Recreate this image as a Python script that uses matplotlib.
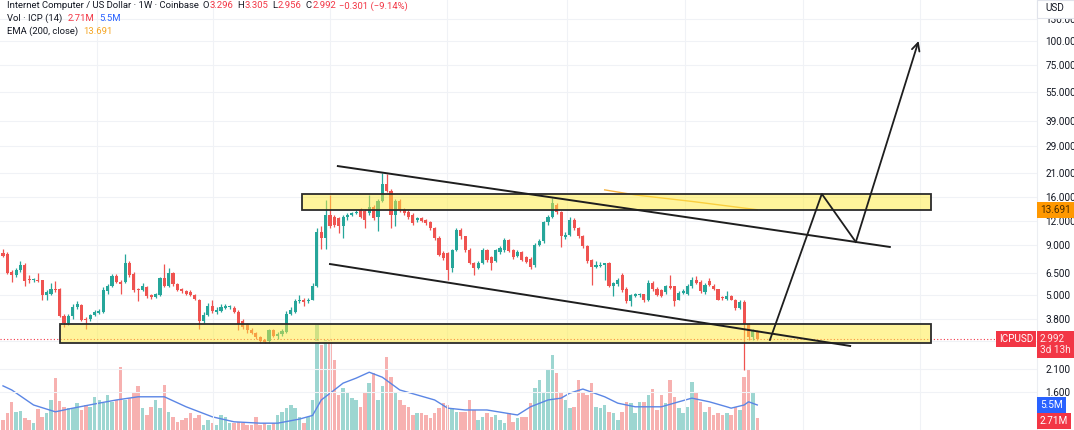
import matplotlib
matplotlib.use("Agg")
import matplotlib.pyplot as plt
import matplotlib.transforms as mtransforms
from matplotlib.patches import Rectangle
from matplotlib.ticker import NullLocator

plt.rcParams["font.family"] = ["Roboto", "DejaVu Sans"]

# weekly candles, ICP/USD (Coinbase)
opens = [8.2, 8.1, 6.55, 6.35, 6.7, 7.15, 6.0, 5.97, 6.0, 5.95,
         5.0, 5.1, 5.4, 5.35, 3.9, 3.6, 3.9, 4.35, 4.45, 3.75,
         3.8, 3.95, 4.05, 4.1, 5.25, 5.55, 6.3, 5.85, 5.85, 7.3,
         6.45, 5.35, 5.3, 5.5, 5.0, 4.9, 5.0, 6.1, 5.6, 6.5,
         5.7, 5.35, 5.25, 5.2, 5.0, 4.75, 3.7, 3.95, 4.42, 4.1,
         4.15, 4.3, 4.35, 4.3, 4.12, 3.7, 3.55, 3.32, 3.2, 3.07,
         2.95, 2.9, 3.3, 3.1, 3.18, 3.26, 4.0, 4.1, 4.65, 4.75,
         4.65, 4.73, 5.6, 10.5, 9.8, 12.9, 12.6, 12.4, 11.3, 12.5,
         12.9, 13.2, 13.6, 13.5, 13.2, 14.2, 12.6, 15.2, 18.6, 17.1,
         12.9, 15.1, 13.65, 13.4, 12.9, 12.1, 12.35, 12.1, 11.8, 11.0,
         9.8, 8.2, 8.2, 6.9, 8.5, 10.8, 10.0, 8.5, 7.3, 6.9,
         7.3, 8.5, 7.8, 7.5, 8.3, 8.5, 9.6, 8.5, 7.95, 8.3,
         7.8, 7.7, 7.1, 9.0, 9.5, 11.8, 12.6, 14.5, 13.3, 9.9,
         10.2, 12.2, 11.0, 10.0, 8.9, 7.6, 7.0, 7.05, 7.1, 7.3,
         5.6, 5.7, 6.35, 5.4, 4.65, 4.95, 5.0, 5.05, 4.7, 5.75,
         5.4, 5.3, 5.2, 5.55, 5.55, 4.75, 5.15, 5.1, 5.55, 6.0,
         5.85, 5.2, 5.9, 5.6, 5.35, 4.85, 4.8, 4.95, 4.75, 4.3,
         4.6, 3.55, 3.05, 3.296]
highs = [8.6, 8.3, 6.7, 6.9, 7.5, 7.3, 6.35, 6.1, 6.5, 6.0,
         5.3, 5.75, 5.9, 5.45, 4.0, 4.0, 4.5, 4.65, 4.5, 3.85,
         4.0, 4.2, 4.25, 5.5, 5.7, 6.45, 6.45, 5.95, 8.1, 7.5,
         6.6, 5.45, 5.75, 5.6, 5.1, 5.15, 6.2, 7.2, 6.9, 6.6,
         5.8, 5.45, 5.3, 5.3, 5.05, 4.8, 4.1, 4.55, 4.7, 4.35,
         4.5, 4.5, 4.45, 4.4, 4.2, 3.8, 3.6, 3.38, 3.25, 3.1,
         3.0, 3.35, 3.35, 3.25, 3.35, 4.15, 4.35, 4.8, 5.0, 4.85,
         4.85, 5.75, 11.0, 11.3, 15.4, 16.3, 12.9, 12.6, 12.8, 13.1,
         13.4, 13.6, 13.9, 13.8, 16.3, 14.5, 15.6, 21.0, 20.8, 17.5,
         15.5, 15.6, 14.0, 13.6, 13.1, 12.6, 12.5, 12.3, 12.0, 11.2,
         10.0, 8.4, 8.3, 8.6, 11.1, 11.0, 10.1, 8.7, 7.4, 7.5,
         8.7, 8.6, 7.9, 8.6, 8.9, 9.8, 9.7, 8.6, 8.5, 8.4,
         7.9, 7.8, 9.2, 9.7, 12.0, 12.9, 15.7, 14.9, 13.5, 10.5,
         12.5, 12.4, 11.2, 10.2, 9.0, 7.7, 7.5, 7.4, 7.35, 7.4,
         5.85, 6.1, 6.5, 5.5, 5.1, 5.15, 5.15, 5.1, 6.0, 5.9,
         5.5, 5.4, 5.65, 6.35, 5.6, 5.25, 5.4, 5.7, 6.2, 6.3,
         5.95, 5.75, 6.15, 5.7, 5.4, 4.95, 5.25, 5.0, 4.8, 4.7,
         4.7, 3.6, 3.35, 3.305]
lows = [7.8, 6.4, 5.85, 6.2, 6.6, 5.6, 5.8, 5.85, 5.85, 4.75,
        4.75, 5.0, 5.2, 3.85, 3.45, 3.5, 3.8, 4.25, 3.7, 3.35,
        3.7, 3.9, 4.0, 4.05, 5.1, 5.5, 5.75, 5.1, 5.75, 6.2,
        5.2, 4.65, 5.25, 4.85, 4.8, 4.85, 4.95, 5.5, 5.5, 5.6,
        5.25, 5.15, 5.0, 4.95, 4.7, 3.35, 3.6, 3.9, 4.05, 4.0,
        4.1, 4.25, 4.25, 4.05, 3.3, 3.35, 3.2, 3.15, 3.0, 2.85,
        2.85, 2.85, 3.05, 3.0, 3.1, 3.2, 3.95, 4.05, 4.55, 4.4,
        4.55, 4.7, 5.5, 8.6, 8.6, 11.0, 11.2, 10.4, 9.8, 12.2,
        12.7, 13.0, 12.4, 11.0, 12.9, 12.2, 10.6, 15.0, 16.8, 11.0,
        11.3, 13.4, 12.9, 12.3, 11.5, 11.9, 11.8, 11.5, 10.8, 9.6,
        7.9, 7.6, 6.0, 6.6, 8.4, 9.7, 8.3, 7.2, 6.35, 6.8,
        7.2, 7.4, 6.7, 7.4, 8.1, 8.3, 8.3, 7.7, 7.8, 7.5,
        7.3, 6.8, 7.0, 8.9, 9.3, 11.5, 12.4, 13.0, 8.8, 9.7,
        10.0, 10.8, 9.8, 8.7, 7.3, 5.64, 6.9, 6.95, 6.0, 5.5,
        4.95, 5.6, 5.2, 4.55, 4.4, 4.9, 4.9, 4.6, 4.65, 5.25,
        4.95, 4.9, 5.1, 5.35, 4.4, 4.7, 5.1, 5.0, 5.45, 5.7,
        5.15, 5.1, 5.55, 5.3, 4.7, 4.7, 4.75, 4.7, 4.2, 4.25,
        2.07, 2.95, 2.95, 2.956]
closes = [7.95, 6.5, 6.35, 6.7, 7.15, 5.9, 5.95, 6.0, 5.9, 5.0,
          5.2, 5.4, 5.3, 3.9, 3.6, 3.9, 4.35, 4.5, 3.75, 3.72,
          3.95, 4.1, 4.15, 5.3, 5.55, 6.3, 5.85, 5.7, 7.3, 6.35,
          5.3, 5.3, 5.55, 4.95, 4.9, 5.05, 6.1, 5.6, 6.5, 5.7,
          5.3, 5.25, 5.1, 5.0, 4.8, 3.7, 3.95, 4.4, 4.15, 4.2,
          4.35, 4.38, 4.37, 4.1, 3.55, 3.45, 3.3, 3.2, 3.07, 2.92,
          2.88, 3.3, 3.1, 3.18, 3.28, 4.0, 4.2, 4.65, 4.75, 4.62,
          4.75, 5.6, 10.5, 9.8, 12.9, 11.3, 11.5, 11.3, 12.6, 12.9,
          13.2, 13.35, 12.6, 12.1, 14.1, 12.4, 15.2, 18.6, 17.0, 12.9,
          15.1, 13.65, 13.1, 12.6, 11.7, 12.35, 12.0, 11.7, 11.0, 9.8,
          8.0, 7.75, 6.7, 8.5, 10.8, 10.0, 8.5, 7.3, 6.9, 7.3,
          8.5, 7.6, 7.3, 8.5, 8.7, 9.6, 8.45, 7.85, 8.3, 7.6,
          7.4, 7.0, 9.0, 9.5, 11.8, 12.6, 14.8, 13.3, 10.0, 10.2,
          12.1, 11.0, 10.0, 8.9, 7.45, 7.0, 7.15, 7.15, 7.3, 5.6,
          5.75, 5.95, 5.3, 4.65, 5.0, 5.05, 5.05, 4.7, 5.75, 5.35,
          5.0, 4.95, 5.55, 5.45, 4.65, 5.15, 5.25, 5.55, 6.0, 5.8,
          5.25, 5.65, 5.65, 5.35, 4.75, 4.82, 4.95, 4.75, 4.3, 4.6,
          3.55, 3.05, 3.3, 2.992]

# weekly volume, millions
volumes = [2.2, 3.7, 6.2, 4.0, 4.2, 2.6, 2.2, 1.5, 4.6, 2.9,
           3.7, 6.6, 11.4, 6.4, 5.1, 4.8, 4.8, 5.9, 4.4, 5.5,
           5.1, 7.3, 6.6, 5.9, 7.7, 6.2, 6.6, 13.9, 6.6, 7.0,
           8.4, 9.7, 4.8, 3.3, 5.1, 6.6, 4.8, 9.9, 4.0, 2.9,
           1.8, 2.2, 2.6, 3.7, 2.6, 3.3, 1.1, 2.2, 1.5, 1.1,
           3.3, 2.9, 1.5, 1.5, 1.8, 1.5, 1.1, 1.1, 2.9, 1.1,
           1.5, 1.1, 1.5, 3.3, 4.0, 4.8, 5.5, 4.8, 2.9, 1.5,
           2.9, 6.6, 23.1, 18.7, 19.8, 19.8, 15.4, 7.7, 9.2, 8.1,
           7.0, 6.6, 5.1, 8.1, 10.3, 12.5, 6.6, 9.7, 16.1, 11.7,
           8.4, 6.6, 5.5, 5.1, 3.3, 3.7, 3.7, 3.3, 2.6, 3.7,
           4.8, 5.9, 5.5, 4.8, 4.0, 4.0, 4.0, 6.6, 4.4, 2.2,
           2.9, 3.7, 2.9, 3.3, 2.2, 1.5, 3.7, 1.8, 2.6, 2.9,
           2.9, 5.9, 9.2, 11.0, 8.4, 13.2, 16.5, 12.5, 8.1, 6.6,
           4.8, 5.1, 11.0, 8.1, 7.7, 10.3, 5.1, 4.8, 5.5, 4.0,
           3.7, 2.2, 4.0, 6.2, 5.9, 3.7, 6.2, 6.2, 7.7, 9.0,
           4.4, 7.7, 5.9, 11.0, 7.3, 4.8, 3.7, 5.1, 10.6, 8.1,
           6.2, 4.0, 5.1, 3.3, 3.7, 3.3, 3.7, 3.3, 5.1, 4.4,
           11.7, 13.2, 8.4, 2.71]

# volume moving average read at selected weeks
vol_ma_week = [0, 2, 7, 12, 16, 22, 26, 31, 37, 42,
               48, 53, 59, 63, 68, 71, 73, 76, 78, 81,
               84, 87, 91, 99, 102, 106, 111, 118, 121, 125,
               128, 130, 133, 138, 141, 145, 151, 155, 158, 162,
               166, 167, 170, 171, 173]
vol_ma = [9.7, 8.8, 5.5, 4.0, 4.8, 5.9, 6.6, 7.3, 7.3, 5.1,
          2.9, 1.8, 1.5, 1.5, 2.4, 3.2, 6.6, 8.8, 10.3, 11.4,
          12.7, 11.6, 8.8, 6.6, 4.8, 4.4, 4.4, 3.3, 5.1, 6.6,
          7.0, 8.1, 9.0, 7.3, 5.9, 5.1, 5.1, 6.2, 7.0, 6.2,
          5.1, 4.8, 5.5, 6.2, 5.5]

# EMA(200) only exists for the last weeks
ema_week = [138, 145, 158, 173]
ema_vals = [17.3, 16.3, 15.1, 13.691]

price_ticks = [1.6, 2.1, 2.9, 3.8, 5.0, 6.5, 9.0, 12.0, 16.0, 21.0,
               29.0, 39.0, 55.0, 75.0, 100.0, 130.0]
period_lines = [21.6, 48.2, 75.0, 101.8, 129.3, 156.4, 183.5, 210.3]

# drawings (week index, price)
support_zone = (13.1, 212.8, 2.85, 3.56)
resist_zone = (68.6, 212.8, 13.65, 16.5)
upper_trend = ([76.8, 203.4], [22.9, 8.83])
lower_trend = ([75.0, 194.3], [7.22, 2.75])
path_week = [175.9, 187.8, 195.6, 210.0]
path_price = [2.95, 16.5, 9.36, 100.0]

last_price = 2.992

UP, DOWN = "#26a69a", "#ef5350"
RED = "#f23645"
DARK = "#131722"
GRID = "#f0f2f6"

W, H = 1074, 430
PITCH = 4.36   # px per candle
PANE_W = 1037

fig = plt.figure(figsize=(W / 100, H / 100), dpi=100)
fig.patch.set_facecolor("white")
ax = fig.add_axes([0, 0, PANE_W / W, 1])
ax_vol = ax.twinx()
ax.set_zorder(2)
ax_vol.set_zorder(1)
ax.patch.set_visible(False)

n = len(closes)
idx = list(range(n))
col = [UP if c >= o else DOWN for o, c in zip(opens, closes)]

# volume pane
ax_vol.bar(idx, volumes, width=0.8, color=col, alpha=0.45, linewidth=0)
ax_vol.plot(vol_ma_week, vol_ma, color="#5b86e5", lw=1.0)
ax_vol.set_ylim(0, H / 4.55)
ax_vol.set_yticks([])
for s in ax_vol.spines.values():
    s.set_visible(False)

# price pane
ax.set_yscale("log")
ax.set_xlim(-3 / PITCH, (PANE_W - 3) / PITCH)
ax.set_ylim(1.0214, 162.1)
for s in ax.spines.values():
    s.set_visible(False)
ax.set_xticks([])
ax.yaxis.tick_right()
ax.yaxis.set_minor_locator(NullLocator())
ax.set_yticks(price_ticks)
# the 2.900 label sits under the last-price tag
ax.set_yticklabels(["" if t == 2.9 else f"{t:.3f}" for t in price_ticks])
ax.tick_params(axis="y", length=0, pad=6, labelsize=7.2, labelcolor=DARK)
ax.grid(axis="y", color=GRID, lw=0.8)
for p in period_lines:
    ax.axvline(p, color=GRID, lw=0.8, zorder=0)

ax.axhline(last_price, xmax=(997 / PANE_W), color=RED, lw=0.8,
           ls=(0, (1, 2)), zorder=1)

bottoms = [min(o, c) for o, c in zip(opens, closes)]
tops = [max(max(o, c), min(o, c) * 1.012) for o, c in zip(opens, closes)]
ax.vlines(idx, lows, highs, colors=col, lw=0.9, zorder=3)
ax.bar(idx, [t - b for t, b in zip(tops, bottoms)], bottom=bottoms,
       width=0.72, color=col, linewidth=0, zorder=4)

ax.plot(ema_week, ema_vals, color="#f5b342", lw=1.0, zorder=5)

for x0, x1, lo, hi in (support_zone, resist_zone):
    ax.add_patch(Rectangle((x0, lo), x1 - x0, hi - lo, facecolor="#ffeb3b",
                           alpha=0.5, edgecolor="none", zorder=6))
    ax.add_patch(Rectangle((x0, lo), x1 - x0, hi - lo, facecolor="none",
                           edgecolor="#2b2b2b", lw=1.3, zorder=7))

ax.plot(*upper_trend, color="#1e1e1e", lw=1.4, zorder=8)
ax.plot(*lower_trend, color="#1e1e1e", lw=1.4, zorder=8)
ax.plot(path_week[:-1], path_price[:-1], color="#1e1e1e", lw=1.3, zorder=8,
        solid_joinstyle="miter")
ax.annotate("", xy=(path_week[-1], path_price[-1]),
            xytext=(path_week[-2], path_price[-2]),
            arrowprops=dict(arrowstyle="->", color="#1e1e1e", lw=1.3,
                            shrinkA=0, shrinkB=0, mutation_scale=14),
            zorder=8)

# axis price tags
price_tr = mtransforms.blended_transform_factory(fig.transFigure, ax.transData)
vol_tr = mtransforms.blended_transform_factory(fig.transFigure, ax_vol.transData)
fig.add_artist(plt.Line2D([PANE_W / W] * 2, [0, 1], color="#eceef2", lw=0.8))
fig.text(1040 / W, ema_vals[-1], "13.691", transform=price_tr, fontsize=7.2,
         color="#4a2c00", va="center", ha="left", zorder=6,
         bbox=dict(boxstyle="square,pad=0.3", fc="#ff9800", ec="none"))
fig.text(1040 / W, last_price, "2.992\n3d 13h",
         transform=mtransforms.offset_copy(price_tr, fig=fig, y=-5.5,
                                           units="dots"),
         fontsize=7.2, color="#ffe9ea", va="center", ha="left", zorder=6,
         linespacing=1.1,
         bbox=dict(boxstyle="square,pad=0.3", fc=RED, ec="none"))
fig.text(1016 / W, last_price, "ICPUSD", transform=price_tr, fontsize=7.2,
         color="white", va="center", ha="center", zorder=6,
         bbox=dict(boxstyle="square,pad=0.3", fc=RED, ec="none"))
fig.text(1040 / W, vol_ma[-1], "5.5M", transform=vol_tr, fontsize=7.2,
         color="white", va="center", ha="left", zorder=6,
         bbox=dict(boxstyle="square,pad=0.3", fc="#2962ff", ec="none"))
fig.text(1040 / W, volumes[-1], "2.71M", transform=mtransforms.offset_copy(
         vol_tr, fig=fig, y=-3, units="dots"), fontsize=7.2, color="white",
         va="center", ha="left", zorder=6,
         bbox=dict(boxstyle="square,pad=0.3", fc=RED, ec="none"))

fig.add_artist(Rectangle((PANE_W / W, 1 - 18 / H), (W - PANE_W) / W, 18 / H,
                         transform=fig.transFigure, facecolor="white",
                         edgecolor="#e0e3eb", lw=0.8, zorder=5))
fig.text(1045 / W, 1 - 8 / H, "USD", fontsize=7.2, color=DARK, va="center",
         zorder=6)

# legend header, pieces placed one after another
renderer = fig.canvas.get_renderer()


def header_line(y_px, pieces, size=6.8):
    x = 7
    for txt, color, gap in pieces:
        t = fig.text(x / W, 1 - y_px / H, txt, color=color, fontsize=size,
                     va="center", ha="left", zorder=6)
        x = t.get_window_extent(renderer).x1 + gap


header_line(6, [("Internet Computer / US Dollar · 1W · Coinbase", DARK, 4),
                ("O", DARK, 0.5), ("3.296", RED, 4),
                ("H", DARK, 0.5), ("3.305", RED, 4),
                ("L", DARK, 0.5), ("2.956", RED, 4),
                ("C", DARK, 0.5), ("2.992", RED, 3),
                ("\u22120.301 (\u22129.14%)", RED, 0)])
header_line(18.5, [("Vol · ICP (14)", DARK, 5), ("2.71M", RED, 5),
                   ("5.5M", "#2962ff", 0)])
header_line(31, [("EMA (200, close)", DARK, 5), ("13.691", "#f5a623", 0)])

fig.savefig("out.png", dpi=100)
